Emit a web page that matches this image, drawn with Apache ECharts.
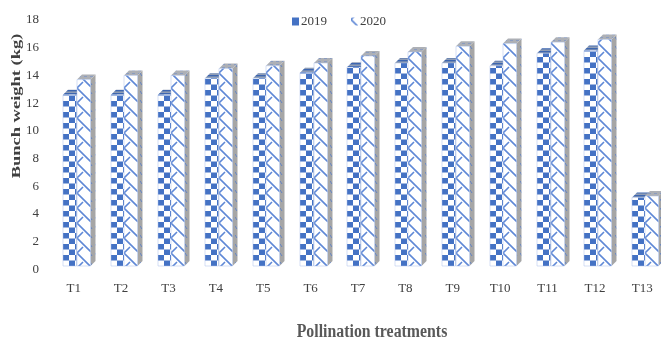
<!DOCTYPE html>
<html lang="en">
<head>
  <meta charset="UTF-8" />
  <title>Bunch weight by pollination treatment</title>
  <script src="https://cdn.jsdelivr.net/npm/echarts@6/dist/echarts.min.js"></script>
  <style>
    html, body { margin: 0; padding: 0; background: #fff; overflow: hidden; }
    #chart { width: 661px; height: 343px; }
  </style>
</head>
<body>
  <div id="chart"></div>
  <script>
    const treatments = ['T1', 'T2', 'T3', 'T4', 'T5', 'T6', 'T7', 'T8', 'T9', 'T10', 'T11', 'T12', 'T13'];
    const weight2019 = [12.6, 12.6, 12.6, 13.8, 13.8, 14.2, 14.6, 14.9, 14.9, 14.7, 15.6, 15.8, 5.2];
    const weight2020 = [13.7, 14.0, 14.0, 14.5, 14.7, 14.9, 15.4, 15.7, 16.1, 16.3, 16.4, 16.6, 5.3];

    const BLUE = '#4472c4';
    const LINE = '#5f88d6';
    const GREY = '#a6a6a6';

    function tile(w, h, draw) {
      const c = document.createElement('canvas');
      c.width = w;
      c.height = h;
      draw(c.getContext('2d'));
      return { image: c, repeat: 'repeat' };
    }

    // Checker fill of the 2019 columns
    const checker = tile(12, 11, function (g) {
      g.fillStyle = '#fff';
      g.fillRect(0, 0, 12, 11);
      g.fillStyle = BLUE;
      g.fillRect(0, 0, 6, 5.5);
      g.fillRect(6, 5.5, 6, 5.5);
    });

    // Shingle fill of the 2020 columns
    const shingle = tile(14, 15, function (g) {
      g.fillStyle = '#fff';
      g.fillRect(0, 0, 14, 15);
      g.strokeStyle = LINE;
      g.lineWidth = 1.6;
      g.beginPath();
      for (let k = -1; k <= 1; k++) {
        const y = 2 + k * 15;
        g.moveTo(0, y);
        g.lineTo(14, y + 14);
        g.moveTo(0, y);
        g.lineTo(6, y - 6);
      }
      g.stroke();
    });

    const sideFill = tile(5, 9, function (g) {
      g.fillStyle = GREY;
      g.fillRect(0, 0, 5, 9);
      g.strokeStyle = '#6484c4';
      g.lineWidth = 1;
      g.beginPath();
      g.moveTo(0, 1);
      g.lineTo(2, 4);
      g.stroke();
    });

    const topFill2019 = tile(4, 3, function (g) {
      g.fillStyle = '#8f9db5';
      g.fillRect(0, 0, 4, 3);
      g.fillStyle = '#3d66b0';
      g.fillRect(0, 0, 4, 1.4);
    });

    const topFill2020 = tile(6, 3, function (g) {
      g.fillStyle = '#adb0b6';
      g.fillRect(0, 0, 6, 3);
      g.fillStyle = '#8a9cc0';
      g.fillRect(0, 1, 3, 1);
    });

    // Draws one extruded column; slot 0 is left of the pair, slot 1 is right
    function columnRenderer(slot, frontFill, topFill) {
      return function (params, api) {
        const top = api.coord([api.value(0), api.value(1)]);
        const zero = api.coord([api.value(0), 0]);
        const band = api.size([1, 0])[0];
        const w = band * 0.285;
        const depth = 5;
        const x0 = Math.round(top[0] - w + 3 + slot * w);
        const x1 = x0 + w;
        const base = Math.round(zero[1] - 4);
        const y = top[1];
        return {
          type: 'group',
          children: [
            {
              type: 'polygon',
              shape: { points: [[x1, y], [x1 + depth, y - depth], [x1 + depth, base - depth], [x1, base]] },
              style: { fill: sideFill },
              silent: true
            },
            {
              type: 'polygon',
              shape: { points: [[x0, y], [x1, y], [x1 + depth, y - depth], [x0 + depth, y - depth]] },
              style: { fill: topFill },
              silent: true
            },
            {
              type: 'rect',
              x: x0,
              y: base,
              shape: { x: 0, y: y - base, width: w, height: base - y },
              style: { fill: frontFill, stroke: '#a9bfe8', lineWidth: 0.5 },
              silent: true
            }
          ]
        };
      };
    }

    const chart = echarts.init(document.getElementById('chart'), null, { renderer: 'canvas' });

    chart.setOption({
      animation: false,
      backgroundColor: '#fff',
      textStyle: { fontFamily: '"Liberation Serif", serif' },
      grid: { left: 50, top: 20, width: 616, height: 249.5, outerBoundsMode: 'none' },
      legend: {
        left: 287,
        top: 10,
        itemWidth: 7,
        itemHeight: 8,
        itemGap: 24,
        textStyle: { fontFamily: '"Liberation Serif", serif', fontSize: 13, color: '#404040', padding: [0, 0, 0, -3] },
        data: [
          { name: '2019', icon: 'rect', itemStyle: { color: BLUE } },
          { name: '2020', icon: 'rect', itemStyle: { color: shingle } }
        ]
      },
      xAxis: {
        type: 'category',
        data: treatments,
        axisLine: { show: false },
        axisTick: { show: false },
        axisLabel: { margin: 13, fontSize: 13, color: '#404040', fontFamily: '"Liberation Serif", serif' }
      },
      yAxis: {
        type: 'value',
        min: 0,
        max: 18,
        interval: 2,
        axisLine: { show: false },
        axisTick: { show: false },
        splitLine: { show: false },
        axisLabel: { margin: 11, fontSize: 13, color: '#404040', fontFamily: '"Liberation Serif", serif' }
      },
      series: [
        {
          name: '2019',
          type: 'custom',
          renderItem: columnRenderer(0, checker, topFill2019),
          encode: { x: 0, y: 1 },
          itemStyle: { color: BLUE },
          data: weight2019.map(function (v, i) { return [i, v]; })
        },
        {
          name: '2020',
          type: 'custom',
          renderItem: columnRenderer(1, shingle, topFill2020),
          encode: { x: 0, y: 1 },
          itemStyle: { color: LINE },
          data: weight2020.map(function (v, i) { return [i, v]; })
        }
      ],
      graphic: [
        {
          type: 'text',
          x: 372,
          y: 332,
          scaleX: 0.88,
          scaleY: 1.1,
          style: {
            text: 'Pollination treatments',
            font: 'bold 18px "Liberation Serif", serif',
            fill: '#595959',
            textAlign: 'center',
            textVerticalAlign: 'middle'
          }
        },
        {
          type: 'text',
          x: 17,
          y: 106,
          rotation: Math.PI / 2,
          scaleX: 1.42,
          style: {
            text: 'Bunch weight (kg)',
            font: 'bold 13px "Liberation Serif", serif',
            fill: '#404040',
            textAlign: 'center',
            textVerticalAlign: 'middle'
          }
        }
      ]
    });
  </script>
</body>
</html>
